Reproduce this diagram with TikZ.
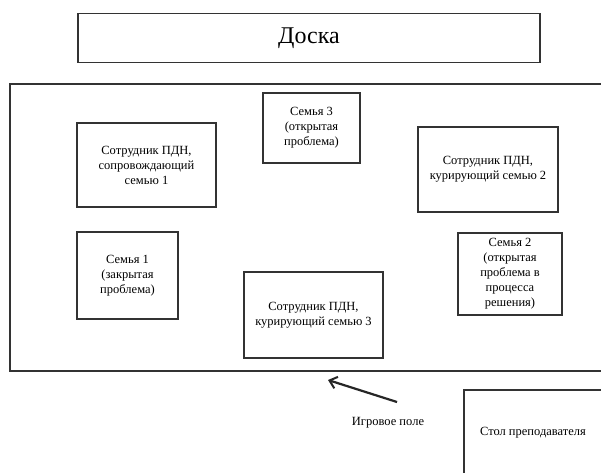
\documentclass[tikz,border=0pt]{standalone}
\usepackage{fontspec}
\setmainfont{Liberation Serif}
\usetikzlibrary{arrows.meta}
\begin{document}
\begin{tikzpicture}[x=1pt,y=-1pt,
  box/.style={draw=black!80,line width=1.2pt,rectangle,inner sep=0pt,align=center,
    font=\fontsize{12.5}{15}\selectfont},
  lbl/.style={inner sep=0pt,align=center,font=\fontsize{12.5}{15}\selectfont}]
\useasboundingbox (0,0) rectangle (601,472);
\clip (0,0) rectangle (601,472);
\fill[white] (0,0) rectangle (601,472);
\node[box,minimum width=462,minimum height=49,font=\fontsize{24}{28}\selectfont] (doska) at (309,38) {Доска};
\node[box,minimum width=592,minimum height=287] (field) at (306,227.5) {};
\node[box,minimum width=139,minimum height=84] (s1) at (146.5,165) {Сотрудник ПДН,\\сопровождающий\\семью 1};
\node[box,minimum width=97,minimum height=70] (f3) at (311.5,128) {Семья 3\\(открытая\\проблема)};
\node[box,minimum width=140,minimum height=85] (s2) at (488,169.5) {Сотрудник ПДН,\\курирующий семью 2};
\node[box,minimum width=101,minimum height=87] (f1) at (127.5,275.5) {Семья 1\\(закрытая\\проблема)};
\node[box,minimum width=104,minimum height=82] (f2) at (510,274) {Семья 2\\(открытая\\проблема в\\процесса\\решения)};
\node[box,minimum width=139,minimum height=86] (s3) at (313.5,315) {Сотрудник ПДН,\\курирующий семью 3};
\node[box,minimum width=138,minimum height=86] (stol) at (533,433) {Стол преподавателя};
\node[lbl] (pole) at (388,423) {Игровое поле};
\coordinate (atail) at (397,402);
\coordinate (ahead) at (328,380);
\draw[line width=2.2pt,black!85,-{Straight Barb[length=7pt,width=12pt,line width=2pt]}] (atail) -- (ahead);
\end{tikzpicture}
\end{document}
